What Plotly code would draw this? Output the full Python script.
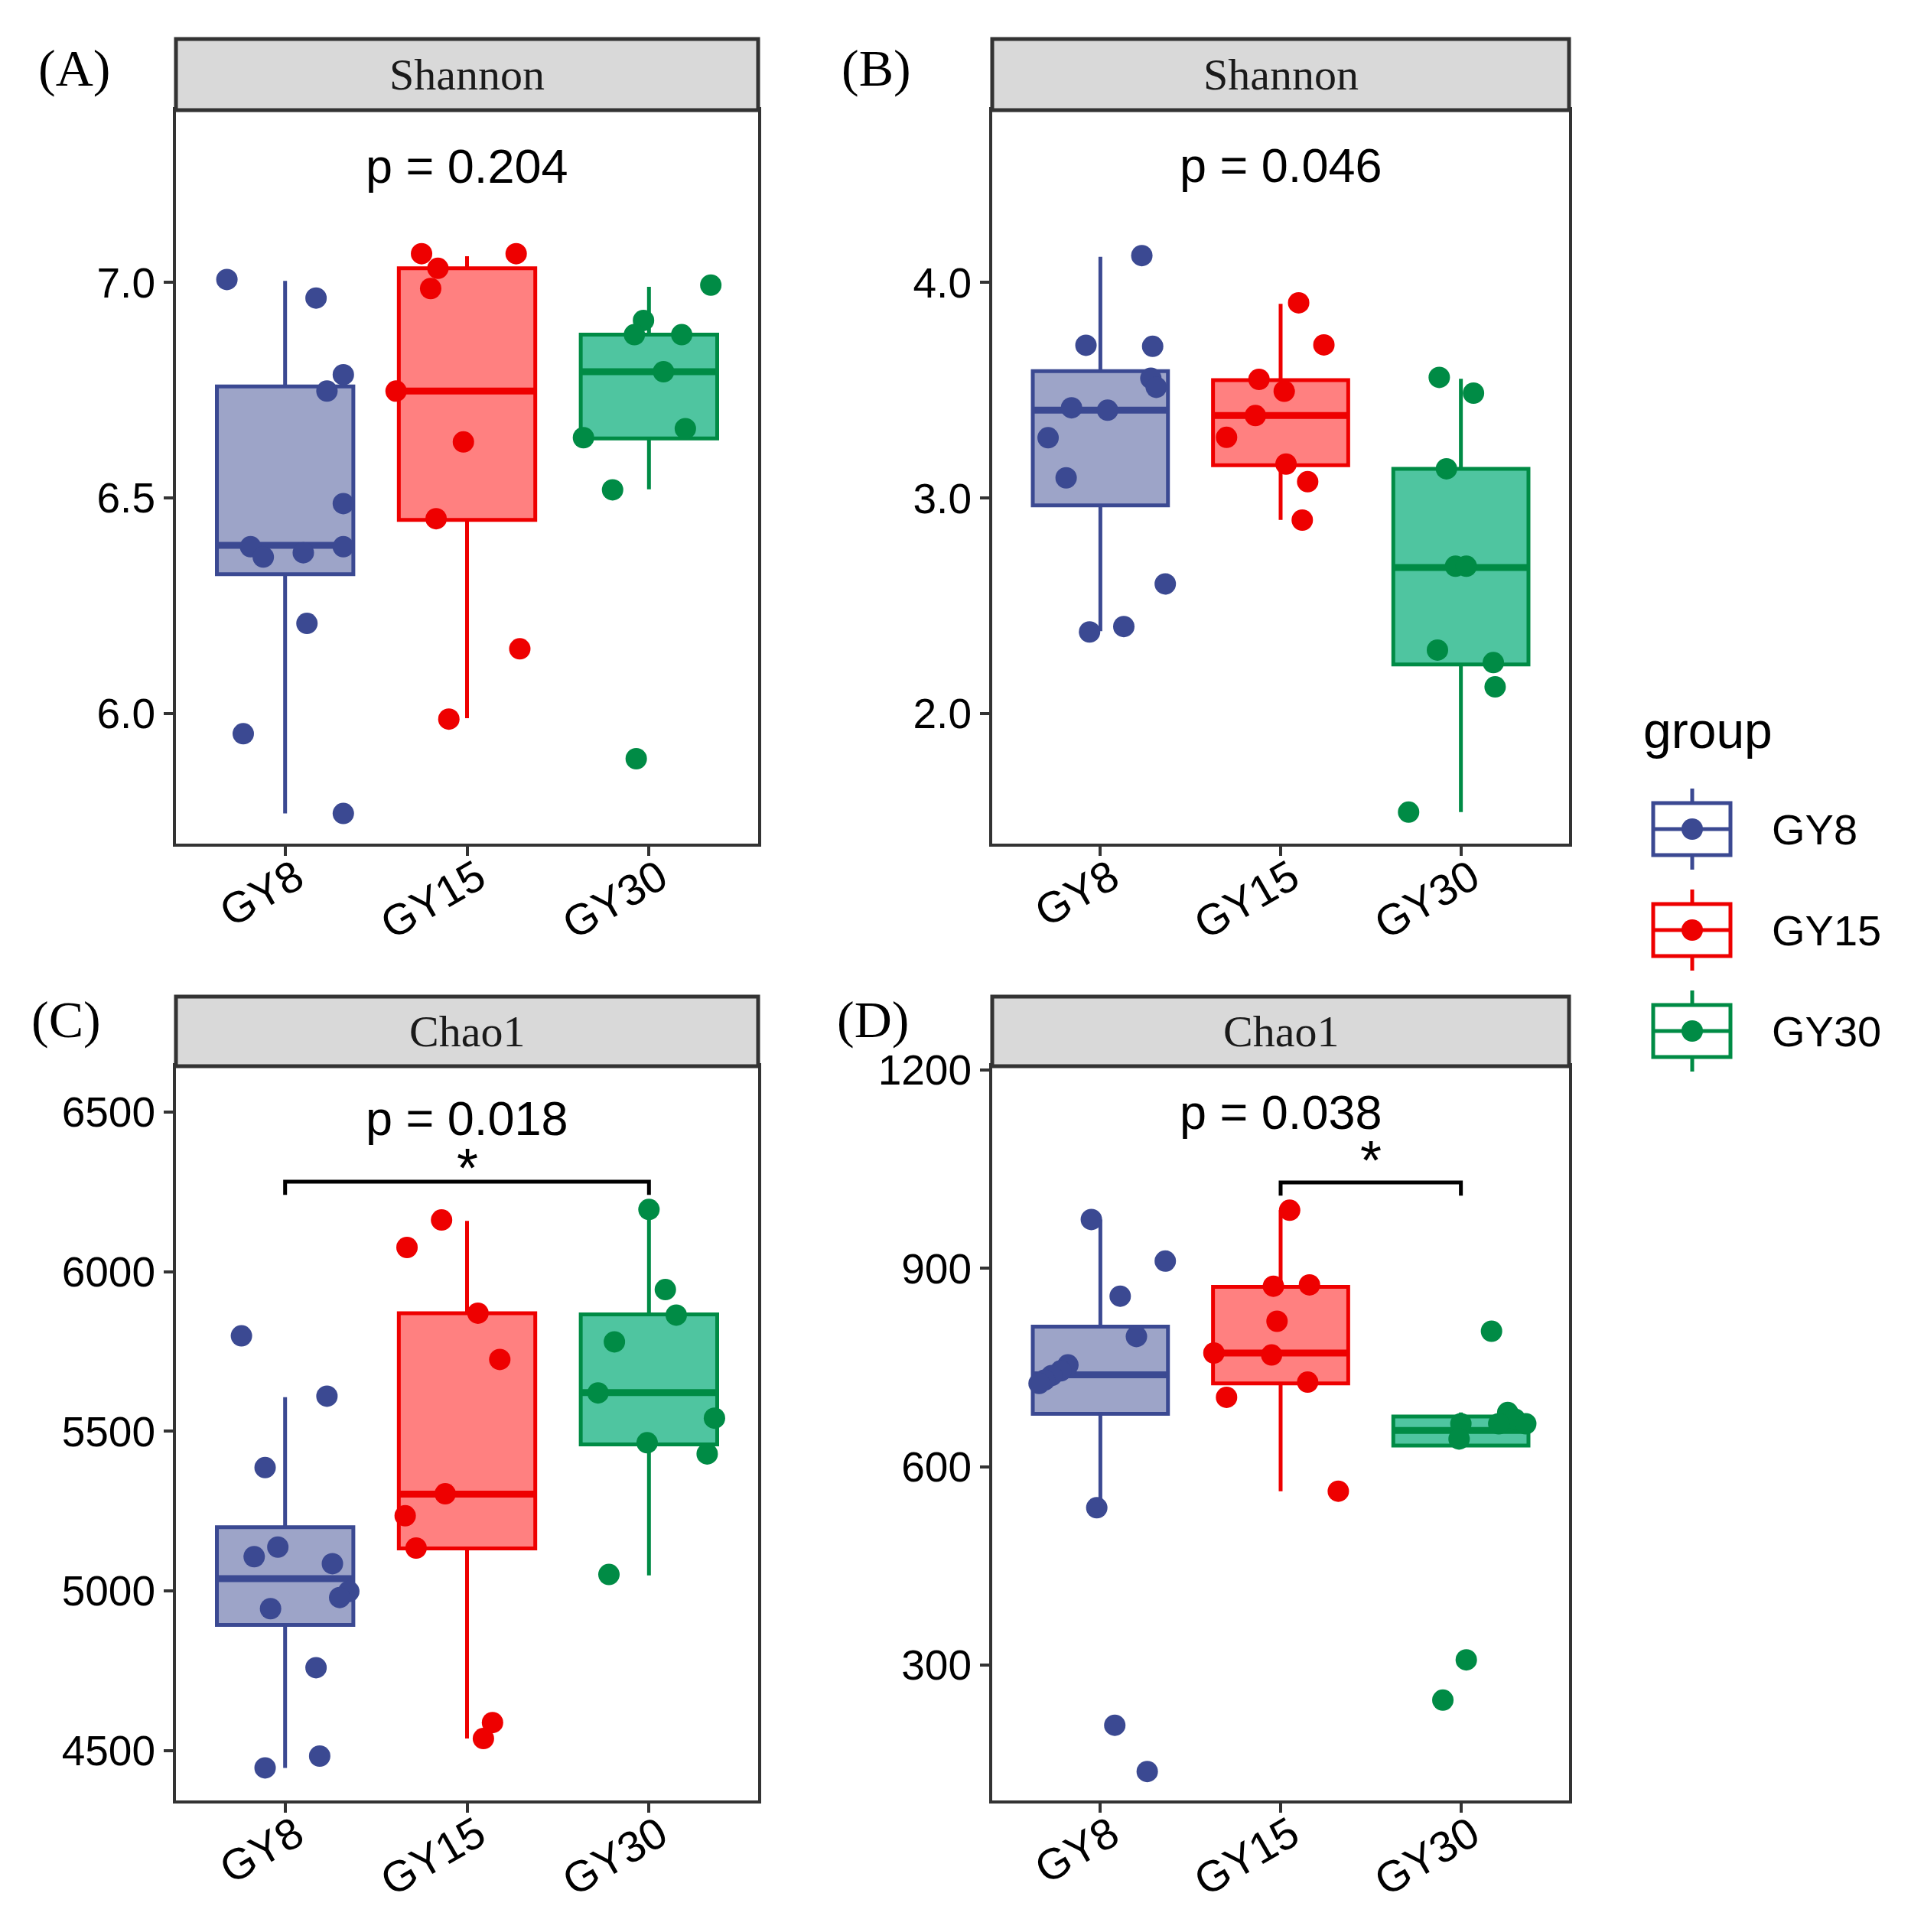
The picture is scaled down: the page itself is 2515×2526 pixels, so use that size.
import plotly.graph_objects as go

W, H = 2515, 2526          # browser window
OFF = 8                    # default page body margin
FW, FH = W - 2 * OFF, H - 2 * OFF

groups = ["GY8", "GY15", "GY30"]
line_colors = ["#3B4992", "#EE0000", "#008B45"]
fill_colors = ["#9DA4C8", "#FF8080", "#4FC5A0"]

# ---------------- Panel A : Shannon ----------------
a_gy8 = [7.007, 6.964, 6.786, 6.748, 6.487, 6.387, 6.363, 6.373, 6.387, 6.209, 5.953, 5.768]
a_gy8_jit = [-0.32, 0.17, 0.32, 0.23, 0.32, -0.19, -0.12, 0.10, 0.32, 0.12, -0.23, 0.32]
a_gy15 = [7.067, 7.067, 7.033, 6.986, 6.748, 6.630, 6.452, 6.150, 5.987]
a_gy15_jit = [-0.25, 0.27, -0.16, -0.20, -0.39, -0.02, -0.17, 0.29, -0.10]
a_gy30 = [6.994, 6.912, 6.879, 6.879, 6.793, 6.661, 6.640, 6.519, 5.895]
a_gy30_jit = [0.34, -0.03, -0.08, 0.18, 0.08, 0.20, -0.36, -0.20, -0.07]
# box statistics: lower whisker, q1, median, q3, upper whisker
a_box_low = [5.768, 5.989, 6.520]
a_box_q1 = [6.323, 6.449, 6.638]
a_box_med = [6.390, 6.748, 6.793]
a_box_q3 = [6.759, 7.033, 6.879]
a_box_high = [7.004, 7.061, 6.990]

# ---------------- Panel B : Shannon ----------------
b_gy8 = [4.125, 3.709, 3.704, 3.556, 3.514, 3.419, 3.408, 3.280, 3.094, 2.602, 2.404, 2.379]
b_gy8_jit = [0.23, -0.08, 0.29, 0.28, 0.31, -0.16, 0.04, -0.29, -0.19, 0.36, 0.13, -0.06]
b_gy15 = [3.906, 3.711, 3.551, 3.496, 3.383, 3.282, 3.158, 3.076, 2.898]
b_gy15_jit = [0.10, 0.24, -0.12, 0.02, -0.14, -0.30, 0.03, 0.15, 0.12]
b_gy30 = [3.560, 3.487, 3.136, 2.684, 2.684, 2.295, 2.237, 2.124, 1.543]
b_gy30_jit = [-0.12, 0.07, -0.08, -0.03, 0.03, -0.13, 0.18, 0.19, -0.29]
b_box_low = [2.383, 2.899, 1.543]
b_box_q1 = [2.966, 3.153, 2.228]
b_box_med = [3.408, 3.383, 2.678]
b_box_q3 = [3.589, 3.547, 3.136]
b_box_high = [4.120, 3.901, 3.554]

# ---------------- Panel C : Chao1 ----------------
c_gy8 = [5799, 5610, 5386, 5137, 5107, 5085, 4998, 4979, 4944, 4759, 4482, 4445]
c_gy8_jit = [-0.24, 0.23, -0.11, -0.04, -0.17, 0.26, 0.35, 0.30, -0.08, 0.17, 0.19, -0.11]
c_gy15 = [6162, 6076, 5870, 5725, 5304, 5235, 5134, 4587, 4537]
c_gy15_jit = [-0.14, -0.33, 0.06, 0.18, -0.12, -0.34, -0.28, 0.14, 0.09]
c_gy30 = [6195, 5944, 5864, 5780, 5620, 5541, 5464, 5429, 5051]
c_gy30_jit = [0.00, 0.09, 0.15, -0.19, -0.28, 0.36, -0.01, 0.32, -0.22]
c_box_low = [4445, 4537, 5048]
c_box_q1 = [4893, 5133, 5459]
c_box_med = [5038, 5303, 5621]
c_box_q3 = [5199, 5870, 5866]
c_box_high = [5607, 6159, 6195]

# ---------------- Panel D : Chao1 ----------------
d_gy8 = [974, 911, 858, 797, 754, 745, 738, 731, 726, 538, 209, 139]
d_gy8_jit = [-0.05, 0.36, 0.11, 0.20, -0.18, -0.22, -0.27, -0.31, -0.34, -0.02, 0.08, 0.26]
d_gy15 = [988, 873, 875, 820, 772, 769, 728, 705, 563]
d_gy15_jit = [0.05, -0.04, 0.16, -0.02, -0.37, -0.05, 0.15, -0.30, 0.32]
d_gy30 = [805, 682, 672, 665, 665, 665, 642, 308, 247]
d_gy30_jit = [0.17, 0.26, 0.30, 0.21, 0.36, 0.00, -0.01, 0.03, -0.10]
d_box_low = [538, 563, 628]
d_box_q1 = [680, 726, 632]
d_box_med = [739, 772, 655]
d_box_q3 = [812, 872, 676]
d_box_high = [974, 988, 682]

# texts
panel_tags = ["(A)", "(B)", "(C)", "(D)"]
strip_titles = ["Shannon", "Shannon", "Chao1", "Chao1"]
p_texts = ["p = 0.204", "p = 0.046", "p = 0.018", "p = 0.038"]
y_ticks_a = [6.0, 6.5, 7.0]
y_ticks_b = [2.0, 3.0, 4.0]
y_ticks_c = [4500, 5000, 5500, 6000, 6500]
y_ticks_d = [300, 600, 900, 1200]
y_ticktext_a = ["6.0", "6.5", "7.0"]
y_ticktext_b = ["2.0", "3.0", "4.0"]
y_ticktext_c = ["4500", "5000", "5500", "6000", "6500"]
y_ticktext_d = ["300", "600", "900", "1200"]
# significance brackets
sig_c = dict(x0=1, x1=3, y=6282, tip=6241, star_y=6325, label="*")
sig_d = dict(x0=2, x1=3, y=1030, tip=1010, star_y=1064, label="*")

panels = [
    dict(vals=[a_gy8, a_gy15, a_gy30], jit=[a_gy8_jit, a_gy15_jit, a_gy30_jit],
         low=a_box_low, q1=a_box_q1, med=a_box_med, q3=a_box_q3, high=a_box_high,
         yr=[5.698, 7.400], tv=y_ticks_a, tt=y_ticktext_a, p_y=7.271, sig=None,
         box=(230, 991, 144, 1103), strip_top=51),
    dict(vals=[b_gy8, b_gy15, b_gy30], jit=[b_gy8_jit, b_gy15_jit, b_gy30_jit],
         low=b_box_low, q1=b_box_q1, med=b_box_med, q3=b_box_q3, high=b_box_high,
         yr=[1.397, 4.800], tv=y_ticks_b, tt=y_ticktext_b, p_y=4.543, sig=None,
         box=(1297, 2051, 144, 1103), strip_top=51),
    dict(vals=[c_gy8, c_gy15, c_gy30], jit=[c_gy8_jit, c_gy15_jit, c_gy30_jit],
         low=c_box_low, q1=c_box_q1, med=c_box_med, q3=c_box_q3, high=c_box_high,
         yr=[4343, 6644], tv=y_ticks_c, tt=y_ticktext_c, p_y=6482, sig=sig_c,
         box=(230, 991, 1394, 2354), strip_top=1303),
    dict(vals=[d_gy8, d_gy15, d_gy30], jit=[d_gy8_jit, d_gy15_jit, d_gy30_jit],
         low=d_box_low, q1=d_box_q1, med=d_box_med, q3=d_box_q3, high=d_box_high,
         yr=[95.3, 1205.8], tv=y_ticks_d, tt=y_ticktext_d, p_y=1136, sig=sig_d,
         box=(1297, 2051, 1394, 2354), strip_top=1303),
]


def px(x):
    return (x - OFF) / FW


def py(y):
    return 1 - (y - OFF) / FH


BOX_W = 0.75
fig = go.Figure()
shapes = []
annotations = []
layout_axes = {}

TICK_FONT = dict(family="Liberation Sans, Arial, sans-serif", size=55, color="#000000")
XTICK_FONT = dict(family="Liberation Sans, Arial, sans-serif", size=57, color="#000000")
SERIF = "Liberation Serif, Times New Roman, serif"
SANS = "Liberation Sans, Arial, sans-serif"

for k, pnl in enumerate(panels):
    n = k + 1
    xa = "x" if n == 1 else f"x{n}"
    ya = "y" if n == 1 else f"y{n}"
    x0, x1, y0, y1 = pnl["box"]
    for g in range(3):
        pos = g + 1
        fig.add_trace(go.Box(
            x=[pos], q1=[pnl["q1"][g]], median=[pnl["med"][g]], q3=[pnl["q3"][g]],
            lowerfence=[pnl["low"][g]], upperfence=[pnl["high"][g]],
            width=BOX_W, fillcolor=fill_colors[g], whiskerwidth=0,
            line=dict(color=line_colors[g], width=5), boxpoints=False,
            xaxis=xa, yaxis=ya, showlegend=False, hoverinfo="skip"))
        fig.add_trace(go.Scatter(
            x=[pos - BOX_W / 2, pos + BOX_W / 2], y=[pnl["med"][g], pnl["med"][g]],
            mode="lines", line=dict(color=line_colors[g], width=9),
            xaxis=xa, yaxis=ya, showlegend=False, hoverinfo="skip"))
    for g in range(3):
        pos = g + 1
        fig.add_trace(go.Scatter(
            x=[pos + j for j in pnl["jit"][g]], y=pnl["vals"][g], mode="markers",
            marker=dict(color=line_colors[g], size=28, line=dict(width=0)),
            xaxis=xa, yaxis=ya, showlegend=False, hoverinfo="skip"))
    sig = pnl["sig"]
    if sig is not None:
        fig.add_trace(go.Scatter(
            x=[sig["x0"], sig["x0"], sig["x1"], sig["x1"]],
            y=[sig["tip"], sig["y"], sig["y"], sig["tip"]],
            mode="lines", line=dict(color="#000000", width=5),
            xaxis=xa, yaxis=ya, showlegend=False, hoverinfo="skip"))
        annotations.append(dict(
            x=(sig["x0"] + sig["x1"]) / 2, y=sig["star_y"], xref=xa, yref=ya,
            text=sig["label"], showarrow=False, font=dict(family=SANS, size=72, color="#000000"),
            xanchor="center", yanchor="middle"))
    annotations.append(dict(
        x=2, y=pnl["p_y"], xref=xa, yref=ya, text=p_texts[k], showarrow=False,
        font=dict(family=SANS, size=63, color="#000000"), xanchor="center", yanchor="middle"))
    layout_axes["xaxis" if n == 1 else f"xaxis{n}"] = dict(
        domain=[px(x0), px(x1)], anchor=ya, range=[0.4, 3.6],
        tickvals=[1, 2, 3], ticktext=groups, tickangle=-30, automargin=False,
        showgrid=False, zeroline=False, showline=True, mirror=True,
        linecolor="#333333", linewidth=4, ticks="outside", ticklen=12,
        tickwidth=4, tickcolor="#333333", tickfont=XTICK_FONT,
        ticklabelstandoff=-27, ticklabelshift=14)
    layout_axes["yaxis" if n == 1 else f"yaxis{n}"] = dict(
        domain=[py(y1), py(y0)], anchor=xa, range=pnl["yr"], automargin=False,
        tickvals=pnl["tv"], ticktext=pnl["tt"],
        showgrid=False, zeroline=False, showline=True, mirror=True,
        linecolor="#333333", linewidth=4, ticks="outside", ticklen=12,
        tickwidth=4, tickcolor="#333333", tickfont=TICK_FONT)
    st = pnl["strip_top"]
    shapes.append(dict(type="rect", xref="paper", yref="paper",
                       x0=px(x0), x1=px(x1), y0=py(y0), y1=py(st),
                       fillcolor="#D9D9D9", line=dict(color="#333333", width=5), layer="above"))
    annotations.append(dict(x=px((x0 + x1) / 2), y=py((y0 + st) / 2), xref="paper", yref="paper",
                            text=strip_titles[k], showarrow=False,
                            font=dict(family=SERIF, size=58, color="#1A1A1A"),
                            xanchor="center", yanchor="middle"))

tag_pos = [(97, 89), (1145, 89), (87, 1333), (1141, 1333)]
for t, (tx, ty) in zip(panel_tags, tag_pos):
    annotations.append(dict(x=px(tx), y=py(ty), xref="paper", yref="paper", text=t,
                            showarrow=False, font=dict(family=SERIF, size=68, color="#000000"),
                            xanchor="center", yanchor="middle"))

# legend drawn as ggplot-style boxplot keys
annotations.append(dict(x=px(2146), y=py(955), xref="paper", yref="paper", text="group",
                        showarrow=False, font=dict(family=SANS, size=66, color="#000000"),
                        xanchor="left", yanchor="middle"))
key_centers = [1084, 1216, 1348]
for g, cy in enumerate(key_centers):
    col = line_colors[g]
    kx0, kx1, kc = 2161, 2262, 2212
    shapes.append(dict(type="line", xref="paper", yref="paper", x0=px(kc), x1=px(kc),
                       y0=py(cy - 53), y1=py(cy + 53), line=dict(color=col, width=5)))
    shapes.append(dict(type="rect", xref="paper", yref="paper", x0=px(kx0), x1=px(kx1),
                       y0=py(cy - 34), y1=py(cy + 34), fillcolor="#FFFFFF",
                       line=dict(color=col, width=5)))
    shapes.append(dict(type="line", xref="paper", yref="paper", x0=px(kx0), x1=px(kx1),
                       y0=py(cy), y1=py(cy), line=dict(color=col, width=5)))
    shapes.append(dict(type="circle", xref="paper", yref="paper", x0=px(kc - 14), x1=px(kc + 14),
                       y0=py(cy - 14), y1=py(cy + 14), fillcolor=col, line=dict(color=col, width=0)))
    annotations.append(dict(x=px(2314), y=py(cy), xref="paper", yref="paper", text=groups[g],
                            showarrow=False, font=dict(family=SANS, size=56, color="#000000"),
                            xanchor="left", yanchor="middle"))

fig.update_layout(width=FW, height=FH, autosize=False,
                  margin=dict(l=0, r=0, t=0, b=0, pad=0),
                  paper_bgcolor="#FFFFFF", plot_bgcolor="#FFFFFF",
                  showlegend=False, shapes=shapes, annotations=annotations,
                  **layout_axes)

fig.write_html("out.html")
